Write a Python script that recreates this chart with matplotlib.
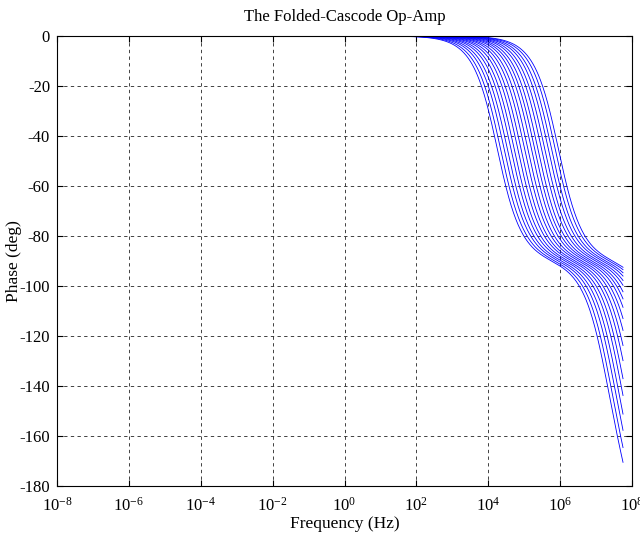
import numpy as np
import matplotlib
matplotlib.use("Agg")
import matplotlib.pyplot as plt
from matplotlib.ticker import LogFormatterSciNotation, NullLocator

# ---- data (pole frequencies, log10 Hz, one entry per curve) ----
dominant_pole_log10_hz = [4.25, 4.34, 4.44, 4.53, 4.63, 4.72, 4.82, 4.91, 5.01, 5.10,
                          5.20, 5.29, 5.38, 5.48, 5.57, 5.67, 5.76, 5.86, 5.95]
second_pole_log10_hz = [7.30, 7.39, 7.49, 7.58, 7.68, 7.77, 7.87, 7.96, 8.06, 8.15,
                        8.25, 8.34, 8.43, 8.53, 8.62, 8.72, 8.81, 8.91, 9.00]
third_pole_log10_hz = [8.50, 8.59, 8.69, 8.78, 8.88, 8.97, 9.07, 9.16, 9.26, 9.35,
                       9.45, 9.54, 9.63, 9.73, 9.82, 9.92, 10.01, 10.11, 10.20]
freq_start_log10_hz = -8.0
freq_stop_log10_hz = 7.75
x_tick_exponents = [-8, -6, -4, -2, 0, 2, 4, 6, 8]
y_ticks = [0, -20, -40, -60, -80, -100, -120, -140, -160, -180]

title_text = "The Folded-Cascode Op-Amp"
x_label = "Frequency (Hz)"
y_label = "Phase (deg)"

# ---- style ----
plt.rcParams["font.family"] = ["Liberation Serif", "DejaVu Serif"]
plt.rcParams["mathtext.fontset"] = "custom"
plt.rcParams["mathtext.rm"] = "Liberation Serif"
plt.rcParams["mathtext.it"] = "Liberation Serif:italic"
plt.rcParams["mathtext.bf"] = "Liberation Serif:bold"
plt.rcParams["axes.unicode_minus"] = False

fig = plt.figure(figsize=(6.4, 5.36), dpi=100)
ax = fig.add_axes([57 / 640, 50 / 536, 575 / 640, 450 / 536])

freq = np.logspace(freq_start_log10_hz, freq_stop_log10_hz, 1200)
for lp1, lp2, lp3 in zip(dominant_pole_log10_hz, second_pole_log10_hz, third_pole_log10_hz):
    h = 1.0 / ((1 + 1j * freq / 10 ** lp1) * (1 + 1j * freq / 10 ** lp2) * (1 + 1j * freq / 10 ** lp3))
    phase = np.degrees(np.unwrap(np.angle(h)))
    ax.plot(freq, phase, color="#0000ff", lw=0.6)

ax.set_xscale("log")
ax.set_xlim(10.0 ** x_tick_exponents[0], 10.0 ** x_tick_exponents[-1])
ax.set_ylim(-180, 0)
ax.set_xticks([10.0 ** e for e in x_tick_exponents])
ax.xaxis.set_major_formatter(LogFormatterSciNotation())
ax.xaxis.set_minor_locator(NullLocator())
ax.set_yticks(y_ticks)

ax.grid(True, which="major", color="#222222", linestyle=(0, (4, 4)), linewidth=0.6)
ax.tick_params(direction="in", which="both", top=True, right=True, labelsize=12, length=4)
ax.tick_params(axis="x", pad=8)
ax.tick_params(axis="y", pad=5)
for s in ax.spines.values():
    s.set_linewidth(0.8)

ax.set_title(title_text, fontsize=12, pad=11)
ax.set_xlabel(x_label, fontsize=12.5, labelpad=1)
ax.set_ylabel(y_label, fontsize=12.5)
ax.yaxis.set_label_coords(-0.06, 0.5)

fig.savefig("out.png", dpi=100)
